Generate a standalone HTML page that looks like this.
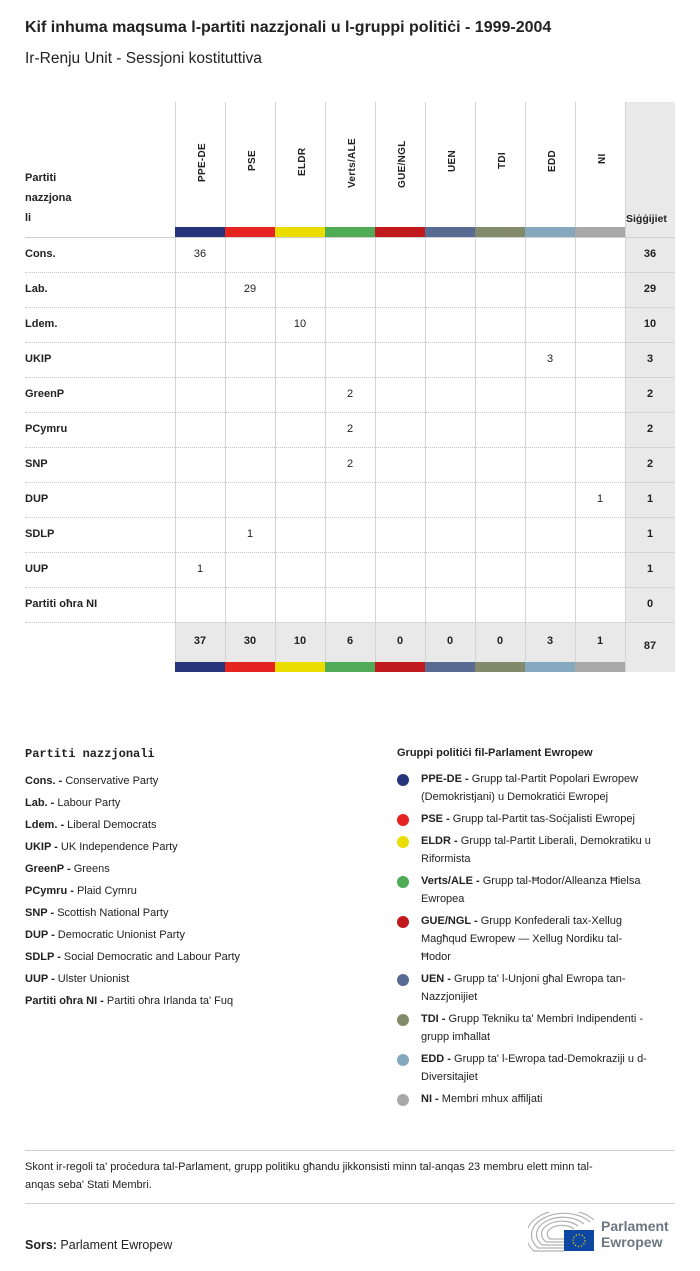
<!DOCTYPE html>
<html><head><meta charset="utf-8"><style>
*{margin:0;padding:0;box-sizing:border-box}
body{width:700px;height:1271px;background:#fff;position:relative;font-family:"Liberation Sans",sans-serif;color:#222;overflow:hidden}
.a{position:absolute}
.vl{position:absolute;width:1px;background:#d4d4d4}
.hd{position:absolute;font-size:10px;font-weight:bold;transform:rotate(-90deg);transform-origin:left top;white-space:nowrap;letter-spacing:0.3px}
.rl{position:absolute;left:25px;font-size:11px;font-weight:bold}
.c{position:absolute;width:50px;text-align:center;font-size:11px}
.lg{position:absolute;font-size:11px;line-height:18px}
.lg b{font-weight:bold}
.dot{position:absolute;width:12px;height:12px;border-radius:50%}
</style></head><body>
<div class="a" style="left:25px;top:19px;font-size:16px;font-weight:bold">Kif inhuma maqsuma l-partiti nazzjonali u l-gruppi politiċi - 1999-2004</div>
<div class="a" style="left:25px;top:50px;font-size:15.5px">Ir-Renju Unit - Sessjoni kostituttiva</div>

<div class="a" style="left:625px;top:102px;width:50px;height:570px;background:#e9e9e9"></div>
<div class="a" style="left:175px;top:622px;width:450px;height:50px;background:#e9e9e9"></div>

<div class="vl" style="left:175px;top:102px;height:570px"></div>
<div class="vl" style="left:225px;top:102px;height:570px"></div>
<div class="vl" style="left:275px;top:102px;height:570px"></div>
<div class="vl" style="left:325px;top:102px;height:570px"></div>
<div class="vl" style="left:375px;top:102px;height:570px"></div>
<div class="vl" style="left:425px;top:102px;height:570px"></div>
<div class="vl" style="left:475px;top:102px;height:570px"></div>
<div class="vl" style="left:525px;top:102px;height:570px"></div>
<div class="vl" style="left:575px;top:102px;height:570px"></div>
<div class="vl" style="left:625px;top:102px;height:570px"></div>

<div class="hd" style="left:197px;top:182px">PPE-DE</div>
<div class="hd" style="left:247px;top:171px">PSE</div>
<div class="hd" style="left:297px;top:176px">ELDR</div>
<div class="hd" style="left:347px;top:188px">Verts/ALE</div>
<div class="hd" style="left:397px;top:188px">GUE/NGL</div>
<div class="hd" style="left:447px;top:172px">UEN</div>
<div class="hd" style="left:497px;top:169px">TDI</div>
<div class="hd" style="left:547px;top:172px">EDD</div>
<div class="hd" style="left:597px;top:164px">NI</div>

<div class="a" style="left:25px;top:168px;font-size:11px;font-weight:bold;line-height:20px">Partiti<br>nazzjona<br>li</div>
<div class="a" style="left:626px;top:213px;font-size:10.5px;font-weight:bold">Siġġijiet</div>

<div class="a" style="left:175px;top:227px;width:50px;height:10px;background:#27347a"></div>
<div class="a" style="left:225px;top:227px;width:50px;height:10px;background:#e52421"></div>
<div class="a" style="left:275px;top:227px;width:50px;height:10px;background:#ecdd00"></div>
<div class="a" style="left:325px;top:227px;width:50px;height:10px;background:#4fab55"></div>
<div class="a" style="left:375px;top:227px;width:50px;height:10px;background:#c01a1f"></div>
<div class="a" style="left:425px;top:227px;width:50px;height:10px;background:#596b92"></div>
<div class="a" style="left:475px;top:227px;width:50px;height:10px;background:#828a6b"></div>
<div class="a" style="left:525px;top:227px;width:50px;height:10px;background:#84a9bf"></div>
<div class="a" style="left:575px;top:227px;width:50px;height:10px;background:#a8a8a8"></div>
<div class="a" style="left:25px;top:237px;width:650px;height:1px;background:#d0d0d0"></div>

<div class="a" style="left:175px;top:662px;width:50px;height:10px;background:#27347a"></div>
<div class="a" style="left:225px;top:662px;width:50px;height:10px;background:#e52421"></div>
<div class="a" style="left:275px;top:662px;width:50px;height:10px;background:#ecdd00"></div>
<div class="a" style="left:325px;top:662px;width:50px;height:10px;background:#4fab55"></div>
<div class="a" style="left:375px;top:662px;width:50px;height:10px;background:#c01a1f"></div>
<div class="a" style="left:425px;top:662px;width:50px;height:10px;background:#596b92"></div>
<div class="a" style="left:475px;top:662px;width:50px;height:10px;background:#828a6b"></div>
<div class="a" style="left:525px;top:662px;width:50px;height:10px;background:#84a9bf"></div>
<div class="a" style="left:575px;top:662px;width:50px;height:10px;background:#a8a8a8"></div>

<div class="a" style="left:25px;top:272px;width:600px;border-top:1px dotted #c8c8c8"></div>
<div class="a" style="left:25px;top:307px;width:600px;border-top:1px dotted #c8c8c8"></div>
<div class="a" style="left:25px;top:342px;width:600px;border-top:1px dotted #c8c8c8"></div>
<div class="a" style="left:25px;top:377px;width:600px;border-top:1px dotted #c8c8c8"></div>
<div class="a" style="left:25px;top:412px;width:600px;border-top:1px dotted #c8c8c8"></div>
<div class="a" style="left:25px;top:447px;width:600px;border-top:1px dotted #c8c8c8"></div>
<div class="a" style="left:25px;top:482px;width:600px;border-top:1px dotted #c8c8c8"></div>
<div class="a" style="left:25px;top:517px;width:600px;border-top:1px dotted #c8c8c8"></div>
<div class="a" style="left:25px;top:552px;width:600px;border-top:1px dotted #c8c8c8"></div>
<div class="a" style="left:25px;top:587px;width:600px;border-top:1px dotted #c8c8c8"></div>
<div class="a" style="left:25px;top:622px;width:600px;border-top:1px dotted #c8c8c8"></div>
<div class="a" style="left:625px;top:272px;width:50px;height:1px;background:#d4d4d4"></div>
<div class="a" style="left:625px;top:307px;width:50px;height:1px;background:#d4d4d4"></div>
<div class="a" style="left:625px;top:342px;width:50px;height:1px;background:#d4d4d4"></div>
<div class="a" style="left:625px;top:377px;width:50px;height:1px;background:#d4d4d4"></div>
<div class="a" style="left:625px;top:412px;width:50px;height:1px;background:#d4d4d4"></div>
<div class="a" style="left:625px;top:447px;width:50px;height:1px;background:#d4d4d4"></div>
<div class="a" style="left:625px;top:482px;width:50px;height:1px;background:#d4d4d4"></div>
<div class="a" style="left:625px;top:517px;width:50px;height:1px;background:#d4d4d4"></div>
<div class="a" style="left:625px;top:552px;width:50px;height:1px;background:#d4d4d4"></div>
<div class="a" style="left:625px;top:587px;width:50px;height:1px;background:#d4d4d4"></div>
<div class="a" style="left:625px;top:622px;width:50px;height:1px;background:#d4d4d4"></div>

<div class="rl" style="top:248px">Cons.</div>
<div class="rl" style="top:283px">Lab.</div>
<div class="rl" style="top:318px">Ldem.</div>
<div class="rl" style="top:353px">UKIP</div>
<div class="rl" style="top:388px">GreenP</div>
<div class="rl" style="top:423px">PCymru</div>
<div class="rl" style="top:458px">SNP</div>
<div class="rl" style="top:493px">DUP</div>
<div class="rl" style="top:528px">SDLP</div>
<div class="rl" style="top:563px">UUP</div>
<div class="rl" style="top:598px">Partiti oħra NI</div>

<div class="c" style="left:175px;top:248px">36</div>
<div class="c" style="left:225px;top:283px">29</div>
<div class="c" style="left:275px;top:318px">10</div>
<div class="c" style="left:525px;top:353px">3</div>
<div class="c" style="left:325px;top:388px">2</div>
<div class="c" style="left:325px;top:423px">2</div>
<div class="c" style="left:325px;top:458px">2</div>
<div class="c" style="left:575px;top:493px">1</div>
<div class="c" style="left:225px;top:528px">1</div>
<div class="c" style="left:175px;top:563px">1</div>

<div class="c" style="left:625px;top:248px;font-weight:bold">36</div>
<div class="c" style="left:625px;top:283px;font-weight:bold">29</div>
<div class="c" style="left:625px;top:318px;font-weight:bold">10</div>
<div class="c" style="left:625px;top:353px;font-weight:bold">3</div>
<div class="c" style="left:625px;top:388px;font-weight:bold">2</div>
<div class="c" style="left:625px;top:423px;font-weight:bold">2</div>
<div class="c" style="left:625px;top:458px;font-weight:bold">2</div>
<div class="c" style="left:625px;top:493px;font-weight:bold">1</div>
<div class="c" style="left:625px;top:528px;font-weight:bold">1</div>
<div class="c" style="left:625px;top:563px;font-weight:bold">1</div>
<div class="c" style="left:625px;top:598px;font-weight:bold">0</div>

<div class="c" style="left:175px;top:635px;font-weight:bold">37</div>
<div class="c" style="left:225px;top:635px;font-weight:bold">30</div>
<div class="c" style="left:275px;top:635px;font-weight:bold">10</div>
<div class="c" style="left:325px;top:635px;font-weight:bold">6</div>
<div class="c" style="left:375px;top:635px;font-weight:bold">0</div>
<div class="c" style="left:425px;top:635px;font-weight:bold">0</div>
<div class="c" style="left:475px;top:635px;font-weight:bold">0</div>
<div class="c" style="left:525px;top:635px;font-weight:bold">3</div>
<div class="c" style="left:575px;top:635px;font-weight:bold">1</div>
<div class="c" style="left:625px;top:640px;font-weight:bold">87</div>

<div class="a" style="left:25px;top:747px;font-family:'Liberation Mono',monospace;font-size:12px;font-weight:bold">Partiti nazzjonali</div>
<div class="lg" style="left:25px;top:770px;line-height:22px">
<b>Cons. -</b> Conservative Party<br>
<b>Lab. -</b> Labour Party<br>
<b>Ldem. -</b> Liberal Democrats<br>
<b>UKIP -</b> UK Independence Party<br>
<b>GreenP -</b> Greens<br>
<b>PCymru -</b> Plaid Cymru<br>
<b>SNP -</b> Scottish National Party<br>
<b>DUP -</b> Democratic Unionist Party<br>
<b>SDLP -</b> Social Democratic and Labour Party<br>
<b>UUP -</b> Ulster Unionist<br>
<b>Partiti oħra NI -</b> Partiti oħra Irlanda ta' Fuq
</div>

<div class="a" style="left:397px;top:747px;font-size:11px;font-weight:bold">Gruppi politiċi fil-Parlament Ewropew</div>
<div class="dot" style="left:397px;top:774px;background:#27347a"></div>
<div class="lg" style="left:421px;top:770px;width:256px"><b>PPE-DE -</b> Grupp tal-Partit Popolari Ewropew (Demokristjani) u Demokratiċi Ewropej</div>
<div class="dot" style="left:397px;top:814px;background:#e52421"></div>
<div class="lg" style="left:421px;top:810px;width:256px"><b>PSE -</b> Grupp tal-Partit tas-Soċjalisti Ewropej</div>
<div class="dot" style="left:397px;top:836px;background:#ecdd00"></div>
<div class="lg" style="left:421px;top:832px;width:256px"><b>ELDR -</b> Grupp tal-Partit Liberali, Demokratiku u Riformista</div>
<div class="dot" style="left:397px;top:876px;background:#4fab55"></div>
<div class="lg" style="left:421px;top:872px;width:256px"><b>Verts/ALE -</b> Grupp tal-Ħodor/Alleanza Ħielsa Ewropea</div>
<div class="dot" style="left:397px;top:916px;background:#c01a1f"></div>
<div class="lg" style="left:421px;top:912px;width:230px"><b>GUE/NGL -</b> Grupp Konfederali tax-Xellug Magħqud Ewropew — Xellug Nordiku tal-Ħodor</div>
<div class="dot" style="left:397px;top:974px;background:#596b92"></div>
<div class="lg" style="left:421px;top:970px;width:235px"><b>UEN -</b> Grupp ta' l-Unjoni għal Ewropa tan-Nazzjonijiet</div>
<div class="dot" style="left:397px;top:1014px;background:#828a6b"></div>
<div class="lg" style="left:421px;top:1010px;width:250px"><b>TDI -</b> Grupp Tekniku ta' Membri Indipendenti - grupp imħallat</div>
<div class="dot" style="left:397px;top:1054px;background:#84a9bf"></div>
<div class="lg" style="left:421px;top:1050px;width:256px"><b>EDD -</b> Grupp ta' l-Ewropa tad-Demokraziji u d-Diversitajiet</div>
<div class="dot" style="left:397px;top:1094px;background:#a8a8a8"></div>
<div class="lg" style="left:421px;top:1090px;width:256px"><b>NI -</b> Membri mhux affiljati</div>

<div class="a" style="left:25px;top:1150px;width:650px;height:1px;background:#d0d0d0"></div>
<div class="a" style="left:25px;top:1158px;width:660px;font-size:11px;line-height:18px;white-space:nowrap">Skont ir-regoli ta' proċedura tal-Parlament, grupp politiku għandu jikkonsisti minn tal-anqas 23 membru elett minn tal-<br>anqas seba' Stati Membri.</div>
<div class="a" style="left:25px;top:1203px;width:650px;height:1px;background:#d0d0d0"></div>
<div class="a" style="left:25px;top:1238px;font-size:12.5px"><b>Sors:</b> Parlament Ewropew</div>

<svg class="a" style="left:528px;top:1212px" width="70" height="40" viewBox="0 0 70 40">
<g fill="none" stroke="#b0b0b0" stroke-width="1.2">
<path d="M36 30 H18 A16 10 0 0 1 50 14"/>
<path d="M36 33 H14 A20 13 0 0 1 56 12"/>
<path d="M36 36 H10 A24 16 0 0 1 62 10"/>
<path d="M36 27 H22 A12 7 0 0 1 46 17"/>
<path d="M36 39 H6 A28 19 0 0 1 66 8"/>
</g>
<rect x="36" y="18" width="30" height="21" fill="#0e47a1"/>
<circle cx="51" cy="28.5" r="6" fill="none" stroke="#f5d000" stroke-width="1.3" stroke-dasharray="1.2 1.9"/>
</svg>
<div class="a" style="left:601px;top:1218px;font-size:14px;font-weight:bold;color:#6b7680;line-height:16px">Parlament<br>Ewropew</div>
</body></html>
